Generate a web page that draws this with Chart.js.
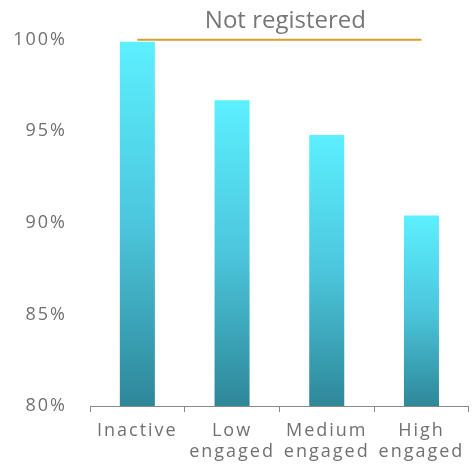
<!DOCTYPE html>
<html>
<head>
<meta charset="utf-8">
<script src="https://cdn.jsdelivr.net/npm/chart.js@4"></script>
<style>
  html, body { margin: 0; padding: 0; background: #fff; }
  #wrap { width: 474px; height: 465px; }
</style>
</head>
<body>
<div id="wrap"><canvas id="bars"></canvas></div>
<script>
// engagement groups and share not registered (%)
var groups = [['Inactive'], ['Low', 'engaged'], ['Medium', 'engaged'], ['High', 'engaged']];
var notRegistered = [99.9, 96.7, 94.8, 90.4];
var reference = [100, 100, 100, 100];
var yTicks = [80, 85, 90, 95, 100];

Chart.defaults.font.family = "'Open Sans', sans-serif";
Chart.defaults.color = '#707070';

// cyan at the top of each bar fading to teal at the axis
function barFill(c) {
  var chart = c.chart;
  var area = chart.chartArea;
  if (!area || c.raw === undefined) return '#4cc8dc';
  var top = chart.scales.y.getPixelForValue(c.raw);
  var g = chart.ctx.createLinearGradient(0, top, 0, area.bottom);
  g.addColorStop(0, '#5cf0ff');
  g.addColorStop(0.5, '#4cc6dc');
  g.addColorStop(1, '#2e8799');
  return g;
}

// axis labels are drawn with a little tracking, the title without
// (and nudged a bit right of the plot centre)
var tracking = {
  id: 'tracking',
  beforeUpdate: function (chart) { chart.ctx.letterSpacing = '2px'; },
  beforeDraw: function (chart) { chart.ctx.letterSpacing = '2px'; },
  afterLayout: function (chart) {
    var t = chart.titleBlock;
    if (t && !t._plain) {
      var draw = t.draw;
      t.draw = function () {
        var c = chart.ctx;
        var s = c.letterSpacing;
        c.save();
        c.letterSpacing = '0px';
        c.translate(6, 0);
        draw.apply(this, arguments);
        c.restore();
        c.letterSpacing = s;
      };
      t._plain = true;
    }
  }
};

var ctx = document.getElementById('bars').getContext('2d');
var chart = new Chart(ctx, {
  data: {
    labels: groups,
    datasets: [
      {
        type: 'line',
        data: reference,
        borderColor: '#d4a030',
        borderWidth: 2,
        pointRadius: 0,
        clip: 4
      },
      {
        type: 'bar',
        data: notRegistered,
        backgroundColor: barFill,
        barPercentage: 0.37,
        categoryPercentage: 1
      }
    ]
  },
  plugins: [tracking],
  options: {
    responsive: true,
    maintainAspectRatio: false,
    animation: false,
    layout: { padding: { left: 10, right: 4, top: 0, bottom: 3 } },
    plugins: {
      legend: { display: false },
      tooltip: { enabled: false },
      title: {
        display: true,
        fullSize: false,
        text: 'Not registered',
        color: '#777',
        font: { size: 24, weight: 'normal', lineHeight: 1.2 },
        padding: { top: 7, bottom: 4 }
      }
    },
    scales: {
      x: {
        grid: { display: true, drawOnChartArea: false, color: '#8a8a8a', tickLength: 6 },
        border: { display: true, color: '#8a8a8a' },
        afterFit: function (axis) { axis.height = 56; },
        ticks: { font: { size: 18, lineHeight: 1.13 }, padding: 9, maxRotation: 0, autoSkip: false }
      },
      y: {
        min: 80,
        max: 100,
        grid: { display: false },
        border: { display: false },
        afterFit: function (axis) { axis.width = 80; },
        afterBuildTicks: function (axis) {
          axis.ticks = yTicks.map(function (v) { return { value: v }; });
        },
        ticks: {
          font: { size: 18 },
          padding: 15,
          callback: function (v) { return v + '%'; }
        }
      }
    }
  }
});
</script>
</body>
</html>
